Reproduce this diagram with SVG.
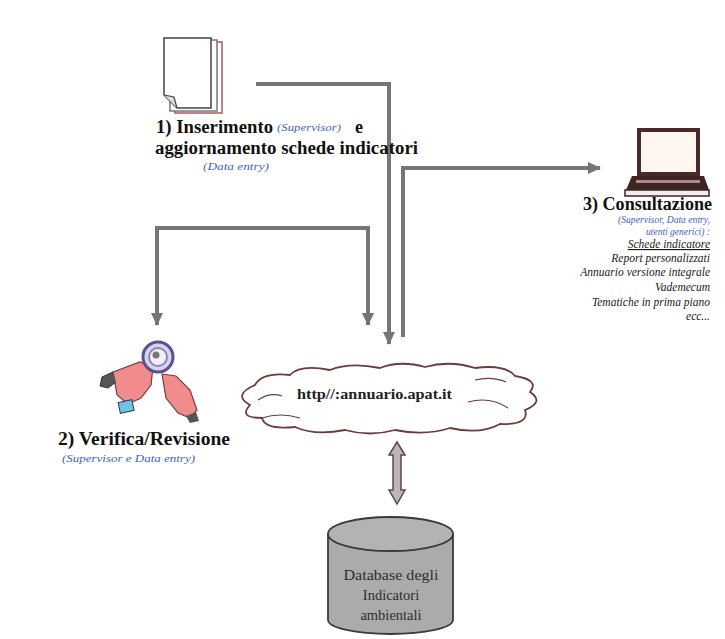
<svg xmlns="http://www.w3.org/2000/svg" width="725" height="639" viewBox="0 0 725 639">
  <style>
    .title { font-family: "Liberation Serif", "Times New Roman", serif; font-weight: bold; font-size: 18px; fill: #111; }
    .role { font-family: "Liberation Serif", "Times New Roman", serif; font-style: italic; font-size: 10px; fill: #3d5fc8; }
    .item { font-family: "Liberation Serif", "Times New Roman", serif; font-style: italic; font-size: 11.5px; fill: #1a1a1a; }
    .url { font-family: "Liberation Serif", "Times New Roman", serif; font-weight: bold; font-size: 15px; fill: #222; }
    .db { font-family: "Liberation Serif", "Times New Roman", serif; font-size: 14.5px; fill: #2e2e2e; }
    .flow { fill: none; stroke: #767676; stroke-width: 4; }
  </style>
  <defs>
    <marker id="head" markerUnits="userSpaceOnUse" markerWidth="14" markerHeight="14" refX="12" refY="7" orient="auto">
      <path d="M0,1 L13,7 L0,13 Z" fill="#767676"/>
    </marker>
  </defs>

  <rect width="725" height="639" fill="#ffffff"/>

  <!-- connectors -->
  <g id="connectors">
    <path class="flow" d="M256,84 H389 V344" marker-end="url(#head)"/>
    <path class="flow" d="M403,337 V168 H600" marker-end="url(#head)"/>
    <path class="flow" d="M368,325 V228 H157 V325" marker-end="url(#head)"/>
    <path class="flow" d="M368,228 V325" marker-end="url(#head)"/>
    <polygon points="397,442 405,455 401,455 401,490 405,490 397,504 389,490 393,490 393,455 389,455" fill="#bdb6b6" stroke="#5a4a4a" stroke-width="1.5"/>
  </g>

  <!-- 1) data entry -->
  <g id="inserimento">
    <rect x="175" y="42" width="47" height="71" fill="#fff" stroke="#a06060" stroke-width="1.5"/>
    <rect x="170" y="40" width="47" height="71" fill="#fff" stroke="#777" stroke-width="1.5"/>
    <path d="M164,38 H211 V108 H177 L164,95 Z" fill="#fff" stroke="#444" stroke-width="1.5"/>
    <path d="M164,95 L174,97 L177,108" fill="#ddd" stroke="#444" stroke-width="1.2"/>
    <text class="title" x="156" y="133" textLength="117" lengthAdjust="spacingAndGlyphs">1) Inserimento</text>
    <text class="role" x="277" y="131" textLength="64" lengthAdjust="spacingAndGlyphs">(Supervisor)</text>
    <text class="title" x="355" y="133">e</text>
    <text class="title" x="155" y="154" textLength="263" lengthAdjust="spacingAndGlyphs">aggiornamento schede indicatori</text>
    <text class="role" x="203" y="170" textLength="66" lengthAdjust="spacingAndGlyphs">(Data entry)</text>
  </g>

  <!-- 2) review -->
  <g id="verifica">
    <path d="M113,372 L140,362 L153,367 L151,385 L141,398 L128,404 L117,395 Z" fill="#f08c8c" stroke="#7a3a3a" stroke-width="1.2"/>
    <path d="M113,372 L102,377 L100,386 L108,388 L116,382" fill="#555" stroke="#333" stroke-width="1"/>
    <rect x="119" y="401" width="14" height="11" fill="#6cc6e0" stroke="#336" stroke-width="1" transform="rotate(-12 126 406)"/>
    <path d="M162,374 L176,376 L190,390 L197,410 L190,418 L178,413 L166,398 Z" fill="#f08c8c" stroke="#7a3a3a" stroke-width="1.2"/>
    <path d="M186,416 L196,412 L199,421 L190,423 Z" fill="#555"/>
    <circle cx="158" cy="357" r="15" fill="#d8d4ec" stroke="#5a5290" stroke-width="3"/>
    <circle cx="158" cy="357" r="9" fill="#f2f0f6" stroke="#8a84b8" stroke-width="2"/>
    <circle cx="156" cy="355" r="3.5" fill="#777"/>
    <text class="title" x="58" y="445" textLength="172" lengthAdjust="spacingAndGlyphs">2) Verifica/Revisione</text>
    <text class="role" x="62" y="462" textLength="133" lengthAdjust="spacingAndGlyphs">(Supervisor e Data entry)</text>
  </g>

  <!-- 3) consultation -->
  <g id="consultazione">
    <rect x="637" y="128" width="63" height="48" fill="#4a2a28"/>
    <rect x="641" y="132" width="55" height="40" fill="#fff6f2"/>
    <path d="M632,176 H704 L709,190 H626 Z" fill="#3e2422"/>
    <rect x="636" y="180" width="64" height="3" fill="#a88"/>
    <rect x="625" y="190" width="84" height="6" fill="#f4eded" stroke="#3e2422" stroke-width="1.5"/>
    <text class="title" x="712" y="210" text-anchor="end" textLength="129" lengthAdjust="spacingAndGlyphs">3) Consultazione</text>
    <g text-anchor="end">
      <text class="role" x="710" y="223" textLength="92" lengthAdjust="spacingAndGlyphs">(Supervisor, Data entry,</text>
      <text class="role" x="710" y="235" textLength="64" lengthAdjust="spacingAndGlyphs">utenti generici) :</text>
      <text class="item" x="710" y="248" text-decoration="underline">Schede indicatore</text>
      <text class="item" x="710" y="262">Report personalizzati</text>
      <text class="item" x="710" y="276">Annuario versione integrale</text>
      <text class="item" x="710" y="291">Vademecum</text>
      <text class="item" x="710" y="306">Tematiche in prima piano</text>
      <text class="item" x="710" y="320">ecc...</text>
    </g>
  </g>

  <!-- web portal -->
  <g id="portale">
    <path d="M250,405 Q232,395 255,385 Q262,372 290,375 Q300,364 330,370 Q350,362 380,368 Q400,360 425,367 Q450,360 475,368 Q505,364 515,376 Q540,380 530,392 Q545,402 525,410 Q530,425 500,424 Q480,435 450,428 Q425,436 395,430 Q370,437 345,430 Q315,436 295,427 Q265,430 262,418 Q238,418 250,405 Z" fill="#fff" stroke="#6b3d3a" stroke-width="1.8"/>
    <path d="M258,400 Q270,392 282,396 M468,402 Q490,396 508,408 M262,418 Q280,412 300,418 M475,380 Q492,376 506,382" fill="none" stroke="#6b3d3a" stroke-width="1.2"/>
    <text class="url" x="297" y="399" textLength="155" lengthAdjust="spacingAndGlyphs">http//:annuario.apat.it</text>
  </g>

  <!-- database -->
  <g id="database">
    <path d="M328,534 V620 A62.5,14 0 0 0 453,620 V534" fill="#ababab" stroke="#3a3a3a" stroke-width="1.8"/>
    <ellipse cx="390.5" cy="534" rx="62.5" ry="17" fill="#b3b3b3" stroke="#3a3a3a" stroke-width="1.8"/>
    <text class="db" x="391" y="580" text-anchor="middle" textLength="95" lengthAdjust="spacingAndGlyphs">Database degli</text>
    <text class="db" x="391" y="600" text-anchor="middle">Indicatori</text>
    <text class="db" x="391" y="620" text-anchor="middle">ambientali</text>
  </g>
</svg>
